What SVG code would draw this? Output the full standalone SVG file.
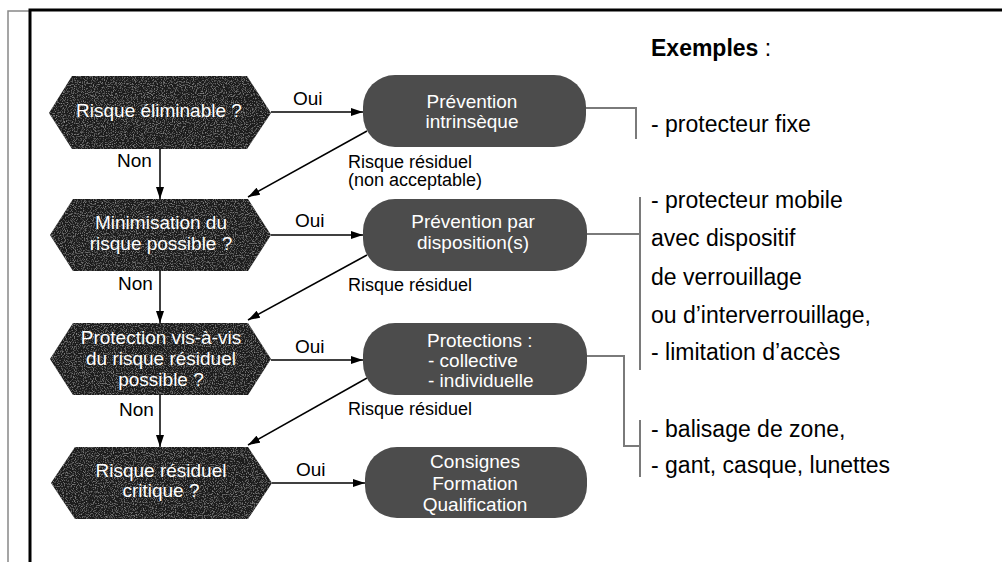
<svg xmlns="http://www.w3.org/2000/svg" width="1002" height="562" viewBox="0 0 1002 562">
<defs>
<marker id="ah" viewBox="0 0 12 8" refX="12" refY="4" markerWidth="12" markerHeight="8" markerUnits="userSpaceOnUse" orient="auto">
<path d="M0,0 L12,4 L0,8 Z" fill="#000"/>
</marker>
<filter id="grain" x="0" y="0" width="100%" height="100%">
<feTurbulence type="fractalNoise" baseFrequency="0.9" numOctaves="2" seed="3" result="n"/>
<feColorMatrix in="n" type="matrix" values="0 0 0 0 0.27  0 0 0 0 0.27  0 0 0 0 0.27  0 0 0 -2.6 1.3" result="g"/>
<feComposite in="g" in2="SourceGraphic" operator="in" result="gc"/>
<feMerge><feMergeNode in="SourceGraphic"/><feMergeNode in="gc"/></feMerge>
</filter>
</defs>
<style>
.hex{fill:#1e1e1e;}
.box{fill:#4c4c4c;}
.wt{fill:#fff;font-family:"Liberation Sans",Arial,sans-serif;font-size:19px;text-anchor:middle;}
.lbl{fill:#000;font-family:"Liberation Sans",Arial,sans-serif;font-size:19px;}
.ex{fill:#000;font-family:"Liberation Sans",Arial,sans-serif;font-size:23px;}
.arr{stroke:#000;stroke-width:1.5;fill:none;marker-end:url(#ah);}
.brk{stroke:#7a7a7a;stroke-width:2;fill:none;}
</style>
<rect x="0" y="0" width="1002" height="562" fill="#fff"/>
<g id="frame">
<path d="M8,562 V11 H30" stroke="#888" stroke-width="1.5" fill="none"/>
<path d="M30,562 V10 H1002" stroke="#000" stroke-width="3" fill="none"/>
</g>
<g id="connectors">
<line class="arr" x1="271" y1="112" x2="363" y2="112"/>
<line class="arr" x1="271" y1="235" x2="363" y2="235"/>
<line class="arr" x1="271" y1="360" x2="363" y2="360"/>
<line class="arr" x1="272" y1="483" x2="365" y2="483"/>
<line class="arr" x1="160" y1="149" x2="160" y2="199"/>
<line class="arr" x1="160" y1="271" x2="160" y2="323"/>
<line class="arr" x1="160" y1="395" x2="160" y2="447"/>
<line class="arr" x1="367" y1="131" x2="248" y2="197"/>
<line class="arr" x1="367" y1="255" x2="248" y2="320"/>
<line class="arr" x1="367" y1="378" x2="248" y2="445"/>
<path class="brk" d="M586,108 H636 V139"/>
<path class="brk" d="M587,234 H640"/>
<path class="brk" d="M640,197 V370"/>
<path class="brk" d="M587,356 H624 V446 H640"/>
<path class="brk" d="M640,420 V477"/>
<text class="lbl" x="293" y="105">Oui</text>
<text class="lbl" x="295" y="227">Oui</text>
<text class="lbl" x="295" y="353">Oui</text>
<text class="lbl" x="296" y="476">Oui</text>
<text class="lbl" x="117" y="167">Non</text>
<text class="lbl" x="118" y="290">Non</text>
<text class="lbl" x="119" y="416">Non</text>
<text class="lbl" x="348" y="168" style="font-size:18px">Risque résiduel</text>
<text class="lbl" x="348" y="186" style="font-size:18px">(non acceptable)</text>
<text class="lbl" x="348" y="291" style="font-size:18px">Risque résiduel</text>
<text class="lbl" x="348" y="415" style="font-size:18px">Risque résiduel</text>
</g>
<g id="q1">
<polygon class="hex" filter="url(#grain)" points="49,113 72,76 247,76 271,113 247,149 72,149"/>
<text class="wt" x="159" y="117">Risque éliminable ?</text>
</g>
<g id="q2">
<polygon class="hex" filter="url(#grain)" points="50,235 73,199 248,199 271,235 248,271 73,271"/>
<text class="wt" x="161" y="229">Minimisation du</text>
<text class="wt" x="161" y="250">risque possible ?</text>
</g>
<g id="q3">
<polygon class="hex" filter="url(#grain)" points="50,359 73,323 248,323 271,359 248,395 73,395"/>
<text class="wt" x="161" y="344">Protection vis-à-vis</text>
<text class="wt" x="161" y="365">du risque résiduel</text>
<text class="wt" x="161" y="386">possible ?</text>
</g>
<g id="q4">
<polygon class="hex" filter="url(#grain)" points="51,483 75,447 248,447 272,483 248,519 75,519"/>
<text class="wt" x="161" y="477">Risque résiduel</text>
<text class="wt" x="161" y="497">critique ?</text>
</g>
<g id="r1">
<rect class="box" x="363" y="75" width="223" height="72" rx="32"/>
<text class="wt" x="472" y="108">Prévention</text>
<text class="wt" x="472" y="128">intrinsèque</text>
</g>
<g id="r2">
<rect class="box" x="363" y="199" width="224" height="72" rx="32"/>
<text class="wt" x="473" y="228">Prévention par</text>
<text class="wt" x="473" y="249">disposition(s)</text>
</g>
<g id="r3">
<rect class="box" x="363" y="323" width="224" height="72" rx="32"/>
<text class="wt" x="427" y="347" style="text-anchor:start">Protections :</text>
<text class="wt" x="428" y="367" style="text-anchor:start">- collective</text>
<text class="wt" x="428" y="387" style="text-anchor:start">- individuelle</text>
</g>
<g id="r4">
<rect class="box" x="365" y="447" width="222" height="71" rx="32"/>
<text class="wt" x="475" y="468">Consignes</text>
<text class="wt" x="475" y="490">Formation</text>
<text class="wt" x="475" y="511">Qualification</text>
</g>
<g id="examples">
<text class="ex" x="651" y="56"><tspan font-weight="bold">Exemples</tspan> :</text>
<text class="ex" x="651" y="132">- protecteur fixe</text>
<text class="ex" x="651" y="208">- protecteur mobile</text>
<text class="ex" x="651" y="246">avec dispositif</text>
<text class="ex" x="651" y="285">de verrouillage</text>
<text class="ex" x="651" y="323">ou d’interverrouillage,</text>
<text class="ex" x="651" y="360">- limitation d’accès</text>
<text class="ex" x="651" y="437">- balisage de zone,</text>
<text class="ex" x="651" y="473">- gant, casque, lunettes</text>
</g>
</svg>
